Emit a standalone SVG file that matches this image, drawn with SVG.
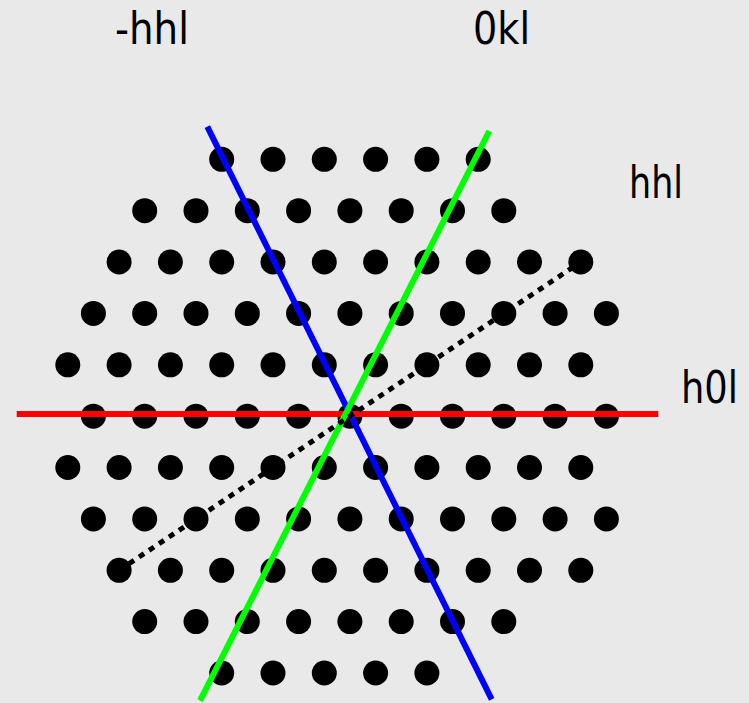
<svg xmlns="http://www.w3.org/2000/svg" width="749" height="703" viewBox="0 0 749 703">
<style>
.d{fill:#000}
.lbl{font-family:"DejaVu Sans","Liberation Sans",sans-serif;font-size:44px;fill:#000}
.ln{fill:none;stroke-width:6;stroke-linecap:butt}
</style>
<rect width="749" height="703" fill="#e9e9e9"/>
<g id="lattice">
<g id="row0"><circle class="d" r="12.5" cx="221.7" cy="159.3"/><circle class="d" r="12.5" cx="273.0" cy="159.3"/><circle class="d" r="12.5" cx="324.3" cy="159.3"/><circle class="d" r="12.5" cx="375.6" cy="159.3"/><circle class="d" r="12.5" cx="426.9" cy="159.3"/><circle class="d" r="12.5" cx="478.2" cy="159.3"/></g>
<g id="row1"><circle class="d" r="12.5" cx="144.7" cy="210.7"/><circle class="d" r="12.5" cx="196.0" cy="210.7"/><circle class="d" r="12.5" cx="247.3" cy="210.7"/><circle class="d" r="12.5" cx="298.6" cy="210.7"/><circle class="d" r="12.5" cx="349.9" cy="210.7"/><circle class="d" r="12.5" cx="401.2" cy="210.7"/><circle class="d" r="12.5" cx="452.5" cy="210.7"/><circle class="d" r="12.5" cx="503.8" cy="210.7"/></g>
<g id="row2"><circle class="d" r="12.5" cx="119.1" cy="262.0"/><circle class="d" r="12.5" cx="170.4" cy="262.0"/><circle class="d" r="12.5" cx="221.7" cy="262.0"/><circle class="d" r="12.5" cx="273.0" cy="262.0"/><circle class="d" r="12.5" cx="324.3" cy="262.0"/><circle class="d" r="12.5" cx="375.6" cy="262.0"/><circle class="d" r="12.5" cx="426.9" cy="262.0"/><circle class="d" r="12.5" cx="478.2" cy="262.0"/><circle class="d" r="12.5" cx="529.5" cy="262.0"/><circle class="d" r="12.5" cx="580.8" cy="262.0"/></g>
<g id="row3"><circle class="d" r="12.5" cx="93.4" cy="313.4"/><circle class="d" r="12.5" cx="144.7" cy="313.4"/><circle class="d" r="12.5" cx="196.0" cy="313.4"/><circle class="d" r="12.5" cx="247.3" cy="313.4"/><circle class="d" r="12.5" cx="298.6" cy="313.4"/><circle class="d" r="12.5" cx="349.9" cy="313.4"/><circle class="d" r="12.5" cx="401.2" cy="313.4"/><circle class="d" r="12.5" cx="452.5" cy="313.4"/><circle class="d" r="12.5" cx="503.8" cy="313.4"/><circle class="d" r="12.5" cx="555.1" cy="313.4"/><circle class="d" r="12.5" cx="606.4" cy="313.4"/></g>
<g id="row4"><circle class="d" r="12.5" cx="67.8" cy="364.8"/><circle class="d" r="12.5" cx="119.1" cy="364.8"/><circle class="d" r="12.5" cx="170.4" cy="364.8"/><circle class="d" r="12.5" cx="221.7" cy="364.8"/><circle class="d" r="12.5" cx="273.0" cy="364.8"/><circle class="d" r="12.5" cx="324.3" cy="364.8"/><circle class="d" r="12.5" cx="375.6" cy="364.8"/><circle class="d" r="12.5" cx="426.9" cy="364.8"/><circle class="d" r="12.5" cx="478.2" cy="364.8"/><circle class="d" r="12.5" cx="529.5" cy="364.8"/><circle class="d" r="12.5" cx="580.8" cy="364.8"/></g>
<g id="row5"><circle class="d" r="12.5" cx="93.4" cy="416.2"/><circle class="d" r="12.5" cx="144.7" cy="416.2"/><circle class="d" r="12.5" cx="196.0" cy="416.2"/><circle class="d" r="12.5" cx="247.3" cy="416.2"/><circle class="d" r="12.5" cx="298.6" cy="416.2"/><circle class="d" r="12.5" cx="349.9" cy="416.2"/><circle class="d" r="12.5" cx="401.2" cy="416.2"/><circle class="d" r="12.5" cx="452.5" cy="416.2"/><circle class="d" r="12.5" cx="503.8" cy="416.2"/><circle class="d" r="12.5" cx="555.1" cy="416.2"/><circle class="d" r="12.5" cx="606.4" cy="416.2"/></g>
<g id="row6"><circle class="d" r="12.5" cx="67.8" cy="467.5"/><circle class="d" r="12.5" cx="119.1" cy="467.5"/><circle class="d" r="12.5" cx="170.4" cy="467.5"/><circle class="d" r="12.5" cx="221.7" cy="467.5"/><circle class="d" r="12.5" cx="273.0" cy="467.5"/><circle class="d" r="12.5" cx="324.3" cy="467.5"/><circle class="d" r="12.5" cx="375.6" cy="467.5"/><circle class="d" r="12.5" cx="426.9" cy="467.5"/><circle class="d" r="12.5" cx="478.2" cy="467.5"/><circle class="d" r="12.5" cx="529.5" cy="467.5"/><circle class="d" r="12.5" cx="580.8" cy="467.5"/></g>
<g id="row7"><circle class="d" r="12.5" cx="93.4" cy="518.9"/><circle class="d" r="12.5" cx="144.7" cy="518.9"/><circle class="d" r="12.5" cx="196.0" cy="518.9"/><circle class="d" r="12.5" cx="247.3" cy="518.9"/><circle class="d" r="12.5" cx="298.6" cy="518.9"/><circle class="d" r="12.5" cx="349.9" cy="518.9"/><circle class="d" r="12.5" cx="401.2" cy="518.9"/><circle class="d" r="12.5" cx="452.5" cy="518.9"/><circle class="d" r="12.5" cx="503.8" cy="518.9"/><circle class="d" r="12.5" cx="555.1" cy="518.9"/><circle class="d" r="12.5" cx="606.4" cy="518.9"/></g>
<g id="row8"><circle class="d" r="12.5" cx="119.1" cy="570.3"/><circle class="d" r="12.5" cx="170.4" cy="570.3"/><circle class="d" r="12.5" cx="221.7" cy="570.3"/><circle class="d" r="12.5" cx="273.0" cy="570.3"/><circle class="d" r="12.5" cx="324.3" cy="570.3"/><circle class="d" r="12.5" cx="375.6" cy="570.3"/><circle class="d" r="12.5" cx="426.9" cy="570.3"/><circle class="d" r="12.5" cx="478.2" cy="570.3"/><circle class="d" r="12.5" cx="529.5" cy="570.3"/><circle class="d" r="12.5" cx="580.8" cy="570.3"/></g>
<g id="row9"><circle class="d" r="12.5" cx="144.7" cy="621.6"/><circle class="d" r="12.5" cx="196.0" cy="621.6"/><circle class="d" r="12.5" cx="247.3" cy="621.6"/><circle class="d" r="12.5" cx="298.6" cy="621.6"/><circle class="d" r="12.5" cx="349.9" cy="621.6"/><circle class="d" r="12.5" cx="401.2" cy="621.6"/><circle class="d" r="12.5" cx="452.5" cy="621.6"/><circle class="d" r="12.5" cx="503.8" cy="621.6"/></g>
<g id="row10"><circle class="d" r="12.5" cx="221.7" cy="673.0"/><circle class="d" r="12.5" cx="273.0" cy="673.0"/><circle class="d" r="12.5" cx="324.3" cy="673.0"/><circle class="d" r="12.5" cx="375.6" cy="673.0"/><circle class="d" r="12.5" cx="426.9" cy="673.0"/></g>
</g>
<g id="connectors">
<line id="h0l-line" class="ln" stroke="#ff0000" x1="16.7" y1="414" x2="658.3" y2="414"/>
<line id="mhhl-line" class="ln" stroke="#0000ff" x1="207.3" y1="126.7" x2="491.7" y2="699.3"/>
<line id="0kl-line" class="ln" stroke="#00ff00" x1="489.3" y1="131" x2="200" y2="700.7"/>
<line id="hhl-line" fill="none" stroke="#000" stroke-width="5" stroke-dasharray="6 6" x1="119.1" y1="570.3" x2="580.8" y2="262.0"/>
</g>
<g id="labels">
<text class="lbl" x="115" y="44" textLength="74" lengthAdjust="spacingAndGlyphs">-hhl</text>
<text class="lbl" x="473" y="44" textLength="57" lengthAdjust="spacingAndGlyphs">0kl</text>
<text class="lbl" x="629" y="198" textLength="54" lengthAdjust="spacingAndGlyphs">hhl</text>
<text class="lbl" x="681" y="403" textLength="57" lengthAdjust="spacingAndGlyphs">h0l</text>
</g>
</svg>
